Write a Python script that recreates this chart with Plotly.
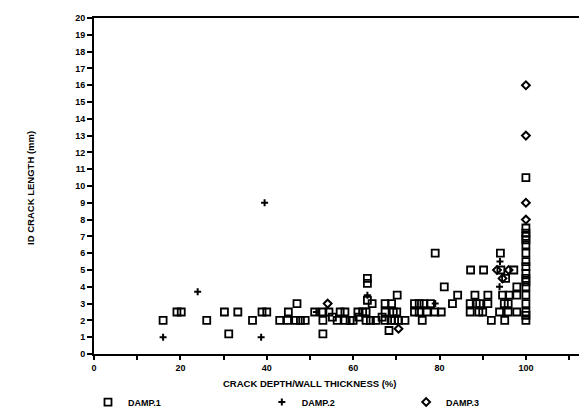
import plotly.graph_objects as go

# DAMP.1 (open squares)
d1_x = [16, 19.2, 20.2, 26.1, 30.2, 31.2, 33.3, 36.7, 38.9, 40, 43, 44.8, 45, 47, 46.7, 47.8, 48.9,
        51.1, 53, 53, 53, 54.4, 55.2, 56.3, 57, 58.1, 58.1, 59.3, 60, 61.3, 61.1, 62.2, 63,
        63.3, 63.3, 63.3, 64.4, 63, 64, 65.3, 66.7, 67.4, 68.9, 67.4, 69.3, 70.1, 67.4, 68.8, 69.6,
        70.5, 72, 68.3, 70.2,
        74.2, 75.3, 76.4, 77.9, 74.2, 75.3, 77.1, 78.9, 80.4, 76,
        79, 81.1, 84.2, 83,
        87.2, 90.2, 94.2, 97.2, 94.1, 95.3, 97.9,
        88.2, 91.2, 94.6, 96.1, 97.9,
        87.1, 88.5, 89.3, 91.2, 95, 95.9,
        87.1, 89.1, 90, 93.9, 95.9, 97.9,
        92, 95.1,
        100, 100, 100, 100, 100, 100, 100, 100, 100, 100, 100, 100, 100, 100, 100, 100, 100, 100]
d1_y = [2, 2.5, 2.5, 2, 2.5, 1.2, 2.5, 2, 2.5, 2.5, 2, 2, 2.5, 3, 2, 2, 2,
        2.5, 2.5, 2, 1.2, 2.5, 2.2, 2, 2.5, 2.5, 2, 2, 2, 2.2, 2.5, 2.5, 2.5,
        4.5, 4.2, 3.2, 3, 2, 2, 2, 2.2, 3, 3, 2.5, 2.5, 2.5, 2, 2, 2,
        2, 2, 1.4, 3.5,
        3, 3, 3, 3, 2.5, 2.5, 2.5, 2.5, 2.5, 2,
        6, 4, 3.5, 3,
        5, 5, 5, 5, 6, 4.5, 4,
        3.5, 3.5, 3.5, 3.5, 3.5,
        3, 3, 3, 3, 3, 3,
        2.5, 2.5, 2.5, 2.5, 2.5, 2.5,
        2, 2,
        10.5, 7.5, 7.2, 7, 6.8, 6.5, 6, 5.5, 5.2, 4.8, 4.5, 4.3, 4, 3.5, 3, 2.5, 2.3, 2]

# DAMP.2 (plus)
d2_x = [16, 24, 38.7, 39.5, 51.5, 63.3, 79, 94, 93.9]
d2_y = [1, 3.7, 1, 9, 2.5, 3.5, 3, 5.5, 4]

# DAMP.3 (diamonds)
d3_x = [54.1, 70.5, 93.3, 94.6, 96, 100, 100, 100, 100]
d3_y = [3, 1.5, 5, 4.5, 5, 16, 13, 9, 8]

x_ticks = [0, 20, 40, 60, 80, 100]
y_ticks = list(range(0, 21))

FONT = dict(family="Liberation Sans", size=9, color="black", weight="bold")

fig = go.Figure()
fig.add_trace(go.Scatter(x=d1_x, y=d1_y, mode="markers", name="DAMP.1", legend="legend",
                         marker=dict(symbol="square-open", size=7, color="black",
                                     line=dict(width=1.8, color="black"))))
fig.add_trace(go.Scatter(x=d2_x, y=d2_y, mode="markers", name="DAMP.2", legend="legend2",
                         marker=dict(symbol="cross-thin", size=5, color="black",
                                     line=dict(width=2, color="black"))))
fig.add_trace(go.Scatter(x=d3_x, y=d3_y, mode="markers", name="DAMP.3", legend="legend3",
                         marker=dict(symbol="diamond-open", size=6, color="black",
                                     line=dict(width=2, color="black"))))

leg_common = dict(orientation="h", yanchor="middle", y=-0.143, xanchor="left",
                  font=FONT, bgcolor="rgba(0,0,0,0)", borderwidth=0,
                  itemsizing="trace")

fig.update_layout(
    width=587, height=409,
    margin=dict(l=86, r=0, t=10, b=63, autoexpand=False),
    paper_bgcolor="white", plot_bgcolor="white",
    showlegend=True,
    legend=dict(leg_common, x=-0.012),
    legend2=dict(leg_common, x=0.335),
    legend3=dict(leg_common, x=0.623),
    xaxis=dict(range=[0, 116], showgrid=False, zeroline=False, automargin=False,
               showline=True, linecolor="black", linewidth=2, mirror=True,
               ticks="outside", ticklen=4, tickwidth=1.5, tickcolor="black",
               tickmode="array", tickvals=list(range(0, 111, 10)),
               ticktext=[str(v) if v in x_ticks else "" for v in range(0, 111, 10)],
               tickfont=FONT),
    yaxis=dict(range=[0, 20], showgrid=False, zeroline=False, automargin=False,
               showline=True, linecolor="black", linewidth=2,
               ticks="outside", ticklen=5, tickwidth=1.5, tickcolor="black",
               tickmode="array", tickvals=y_ticks, ticktext=[str(v) for v in y_ticks],
               tickfont=FONT),
    annotations=[
        dict(text="CRACK DEPTH/WALL THICKNESS (%)", x=50, xref="x", y=-0.089, yref="paper",
             xanchor="center", yanchor="middle", showarrow=False, font=dict(FONT, size=9.5)),
        dict(text="ID CRACK LENGTH (mm)", x=-0.128, xref="paper", y=0.494, yref="paper",
             textangle=-90, xanchor="center", yanchor="middle", showarrow=False,
             font=dict(FONT, size=9.5)),
    ],
)

fig.write_html("out.html")
